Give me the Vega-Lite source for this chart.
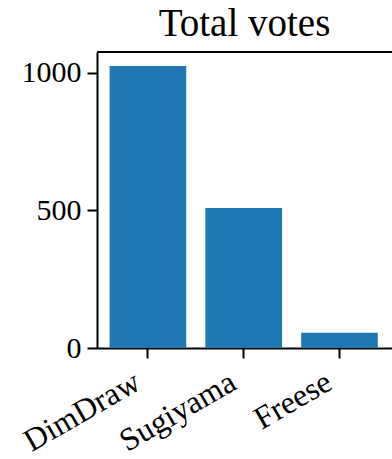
{
  "$schema": "https://vega.github.io/schema/vega-lite/v6.json",
  "autosize": {"type": "none"},
  "padding": {"left": 97, "top": 52, "right": 0, "bottom": 111},
  "width": 295,
  "height": 296,
  "background": "white",
  "config": {
    "font": "Liberation Serif",
    "view": {"stroke": null},
    "axis": {"grid": false, "domainColor": "black", "tickColor": "black", "labelColor": "black", "domainWidth": 2, "tickWidth": 2, "tickSize": 10, "labelFont": "Liberation Serif", "labelFontSize": 30, "title": null}
  },
  "title": {"text": "Total votes", "fontSize": 39, "font": "Liberation Serif", "fontWeight": "normal", "offset": 7, "color": "black"},
  "data": {"values": [
    {"method": "DimDraw", "votes": 1025},
    {"method": "Sugiyama", "votes": 509},
    {"method": "Freese", "votes": 55}
  ]},
  "layer": [
    {
      "mark": {"type": "bar", "color": "#1f77b4", "clip": true},
      "encoding": {
        "x": {"field": "method", "type": "nominal", "sort": null,
              "scale": {"paddingInner": 0.2, "paddingOuter": 0.14, "align": 0.47},
              "axis": {"labelAngle": -30, "labelAlign": "right", "labelBaseline": "top", "labelPadding": 8, "labelOffset": -18, "labelFontSize": 32}},
        "y": {"field": "votes", "type": "quantitative",
              "scale": {"domain": [0, 1076], "nice": false},
              "axis": {"values": [0, 500, 1000], "format": "d", "labelPadding": 6}}
      }
    },
    {
      "mark": {"type": "rule", "color": "black", "strokeWidth": 2},
      "encoding": {"y": {"datum": 1076}}
    }
  ]
}
